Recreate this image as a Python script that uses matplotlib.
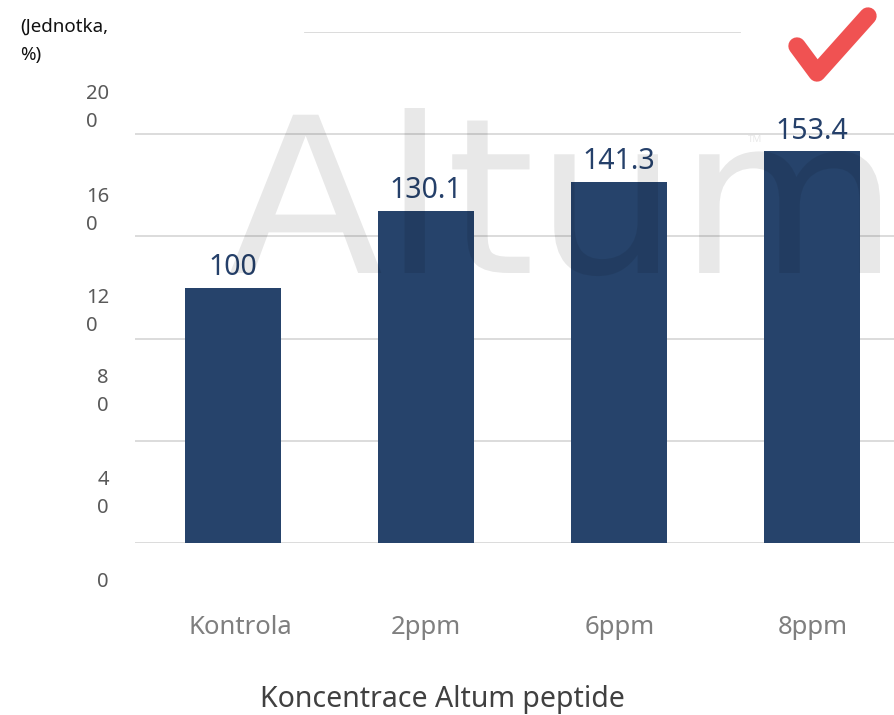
import matplotlib
matplotlib.use("Agg")
import matplotlib.pyplot as plt
from matplotlib.lines import Line2D
from matplotlib.patches import PathPatch
from matplotlib.textpath import TextPath
from matplotlib.font_manager import FontProperties
from matplotlib.transforms import Affine2D, IdentityTransform

plt.rcParams['font.family'] = ['Noto Sans', 'DejaVu Sans']

# data
categories = ["Kontrola", "2ppm", "6ppm", "8ppm"]
values = [100, 130.1, 141.3, 153.4]
value_labels = ["100", "130.1", "141.3", "153.4"]
y_ticks = [0, 40, 80, 120, 160, 200]
y_tick_text = ["0", "4\n0", "8\n0", "12\n0", "16\n0", "20\n0"]

BAR = "#26436b"
W, H = 895, 715

fig = plt.figure(figsize=(W / 100, H / 100), dpi=100)
ax = fig.add_axes([135 / W, (H - 543) / H, 1 - 135 / W, (543 - 32) / H])
ax.set_xlim(-0.508, 3.43)
ax.set_ylim(0, 200)
ax.axis("off")

# gridlines (top one only partly drawn in the source)
for v in y_ticks[:-1]:
    ax.axhline(v, color="#d9d9d9", lw=1.3, zorder=0)
ax.axhline(200, xmin=(305 - 135) / (W - 135), xmax=(740 - 135) / (W - 135),
           color="#d9d9d9", lw=1.3, zorder=0)

x = range(len(categories))
ax.bar(x, values, width=0.5, color=BAR, zorder=2)

for i, (v, s) in enumerate(zip(values, value_labels)):
    ax.annotate(s, (i, v), xytext=(0, 4), textcoords="offset points",
                ha="center", va="bottom", fontsize=20.5, color="#25406a", zorder=4)

# x tick labels
for i, c in enumerate(categories):
    fig.text((233 + i * 193.3 + (7 if i == 0 else 0)) / W, (H - 627) / H, c,
             ha="center", va="center", fontsize=18.5, color="#7f7f7f")

# y tick labels (wrapped, shifted down like the original)
label_px = [582, 494, 392, 312, 211, 108]
for t, yp in zip(y_tick_text, label_px):
    fig.text(109 / W, (H - yp) / H, t, ha="right", va="center", fontsize=14.5,
             color="#595959", linespacing=1.5, multialignment="left")

fig.text(442 / W, (H - 699) / H, "Koncentrace Altum peptide", ha="center",
         va="center", fontsize=20.5, color="#404040")
fig.text(20 / W, (H - 41) / H, "(Jednotka,\n%)", ha="left", va="center",
         fontsize=13.5, color="#111111", linespacing=1.75)

# watermark, stretched to the box it fills in the source
tp = TextPath((0, 0), "Altum", size=100, prop=FontProperties(family="DejaVu Sans"))
ext = tp.get_extents()
sx = (880 - 230) / ext.width
sy = (273 - 108) / ext.y1
tr = Affine2D().translate(-ext.x0, 0).scale(sx, sy).translate(230, H - 273)
fig.add_artist(PathPatch(tr.transform_path(tp), transform=IdentityTransform(),
                         facecolor="black", edgecolor="none", alpha=0.09, zorder=5))
fig.text(755 / W, (H - 140) / H, "TM", fontsize=7, color="black", alpha=0.09,
         ha="center", va="center", weight="bold")

# check mark
fig.add_artist(Line2D([797 / W, 817 / W, 868 / W],
                      [(H - 46) / H, (H - 73) / H, (H - 16) / H],
                      color="#f05252", lw=12.5, solid_capstyle="round",
                      solid_joinstyle="round"))

fig.savefig("out.png", dpi=100)
